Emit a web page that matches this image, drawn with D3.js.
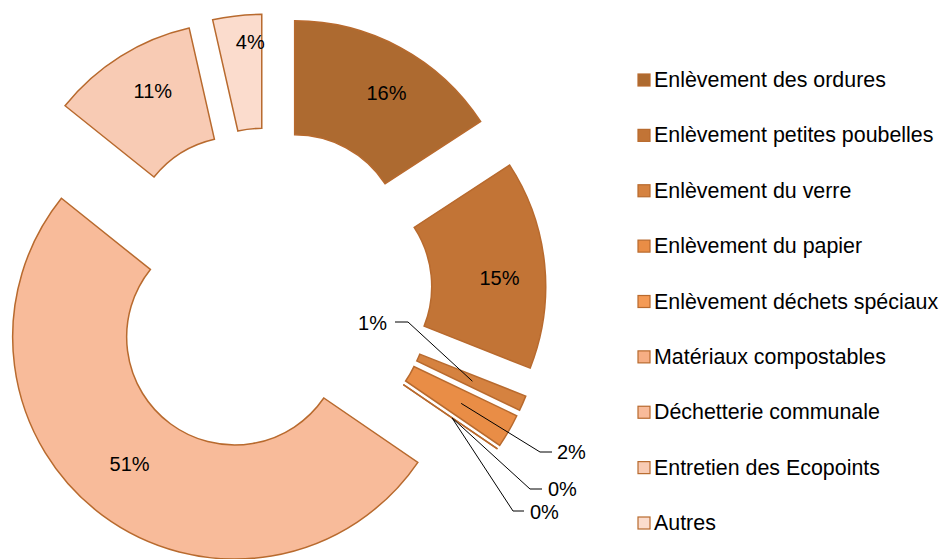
<!DOCTYPE html>
<html>
<head>
<meta charset="utf-8">
<script src="https://cdn.jsdelivr.net/npm/d3@7"></script>
<style>
  body { margin:0; background:#fff; }
  text { font-family: "Liberation Sans", Arial, sans-serif; fill:#000; }
</style>
</head>
<body>
<div id="chart"></div>
<script>
// Data (shares in %; labels show them rounded)
var categories = ["Enlèvement des ordures", "Enlèvement petites poubelles", "Enlèvement du verre",
  "Enlèvement du papier", "Enlèvement déchets spéciaux", "Matériaux compostables",
  "Déchetterie communale", "Entretien des Ecopoints", "Autres"];
var values = [15.8, 15.2, 1.1, 2.45, 0, 0, 51.2, 10.7, 3.55];
var colors = ["#AD6A30", "#C27436", "#D58240", "#E98D46", "#F49A55", "#F6AE84", "#F8BB9A", "#F8CBB4", "#FBDCCD"];

var W = 941, H = 559;
var cx = 268, cy = 292;
var rOut = 222, rIn = 108, explode = 56;

var svg = d3.select("#chart").append("svg")
    .attr("width", W)
    .attr("height", H);

var pie = d3.pie().sort(null).value(function(d){ return d; });
var arcs = pie(values);
arcs.forEach(function(d, i){ d.i = i; });

var arc = d3.arc().innerRadius(rIn).outerRadius(rOut);

function mid(d){ return (d.startAngle + d.endAngle) / 2; }
function offset(d){
  return [cx + Math.sin(mid(d)) * explode, cy - Math.cos(mid(d)) * explode];
}
function pct(v){ return Math.round(v) + "%"; }

var g = svg.append("g");

g.selectAll("path.slice").data(arcs)
  .enter().append("path")
    .attr("class", "slice")
    .attr("d", arc)
    .attr("transform", function(d){ return "translate(" + offset(d) + ")"; })
    .style("fill", function(d){ return colors[d.i]; })
    .style("stroke", "#B86A2E")
    .style("stroke-width", 1.5);

// labels inside the big slices
var labelR = { 6: 165, 8: 195 };
var labelTurn = 3 * Math.PI / 180;
var inside = arcs.filter(function(d){ return d.data >= 3; });
g.selectAll("text.inlabel").data(inside)
  .enter().append("text")
    .attr("class", "inlabel")
    .attr("transform", function(d){
      var r = labelR[d.i] || 176, a = mid(d) + labelTurn, o = offset(d);
      return "translate(" + (o[0] + Math.sin(a) * r) + "," + (o[1] - Math.cos(a) * r) + ")";
    })
    .attr("text-anchor", "middle")
    .attr("dominant-baseline", "central")
    .style("font-size", "20px")
    .text(function(d){ return pct(d.data); });

// labels outside with leader lines (1%, 2%, 0%, 0%)
var outLayout = {
  2: { elbow: [408, 322], end: [395, 322], tx: 387, ty: 323, anchor: "end" },
  3: { elbow: [540, 452], end: [552, 452], tx: 557, ty: 452, anchor: "start" },
  4: { elbow: [530, 489], end: [542, 489], tx: 548, ty: 489, anchor: "start" },
  5: { elbow: [513, 511], end: [524, 511], tx: 530, ty: 512, anchor: "start" }
};
var midArc = d3.arc().innerRadius(167).outerRadius(167);
var outside = arcs.filter(function(d){ return outLayout[d.i]; });

g.selectAll("path.leader").data(outside)
  .enter().append("path")
    .attr("class", "leader")
    .attr("d", function(d){
      var o = offset(d), c = midArc.centroid(d), L = outLayout[d.i];
      return d3.line()([[o[0] + c[0], o[1] + c[1]], L.elbow, L.end]);
    })
    .style("fill", "none")
    .style("stroke", "#000")
    .style("stroke-width", 1);

g.selectAll("text.outlabel").data(outside)
  .enter().append("text")
    .attr("class", "outlabel")
    .attr("x", function(d){ return outLayout[d.i].tx; })
    .attr("y", function(d){ return outLayout[d.i].ty; })
    .attr("text-anchor", function(d){ return outLayout[d.i].anchor; })
    .attr("dominant-baseline", "central")
    .style("font-size", "20px")
    .text(function(d){ return pct(d.data); });

// Legend
var legY = d3.scalePoint().domain(categories).range([80, 523]);
var leg = svg.append("g").selectAll("g").data(categories)
  .enter().append("g")
    .attr("transform", function(d){ return "translate(638," + legY(d) + ")"; });

leg.append("rect")
    .attr("x", 0).attr("y", -6)
    .attr("width", 12).attr("height", 12)
    .style("fill", function(d, i){ return colors[i]; })
    .style("stroke", "#B86A2E")
    .style("stroke-width", 1.2);

leg.append("text")
    .attr("x", 16)
    .attr("y", 0)
    .attr("dominant-baseline", "central")
    .style("font-size", "21.4px")
    .text(function(d){ return d; });
</script>
</body>
</html>
